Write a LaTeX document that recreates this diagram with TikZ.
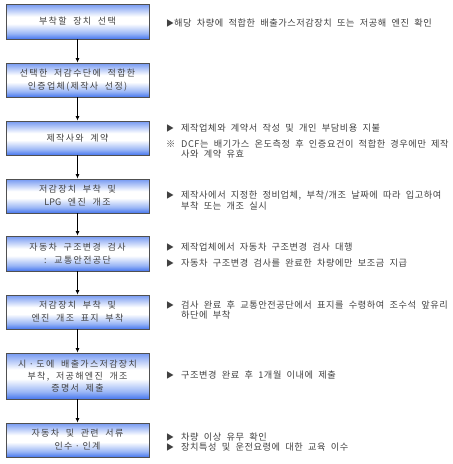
\documentclass[tikz,border=0pt]{standalone}
\usepackage{fontspec}
\setmainfont[WordSpace=2,LetterSpace=6]{Noto Sans CJK KR}
\newfontfamily\boxfont[WordSpace=2,LetterSpace=15]{Noto Sans CJK KR}
\newfontfamily\boxlatin[WordSpace=2]{Noto Sans CJK KR}
\usetikzlibrary{arrows.meta}
\definecolor{btop}{HTML}{7498F2}
\definecolor{bbot}{HTML}{4676EE}
\definecolor{bmid}{HTML}{9AB6F6}
\definecolor{txt}{HTML}{404040}
\definecolor{edge}{HTML}{505050}
\pgfdeclareverticalshading{boxshade}{100bp}{color(0bp)=(bbot); color(25bp)=(bbot); color(33bp)=(bmid); color(47bp)=(white); color(57bp)=(white); color(75bp)=(btop); color(100bp)=(btop)}
\newcommand{\mytri}{\makebox[15pt][l]{\fontsize{8pt}{8pt}\selectfont ▶}}
\newcommand{\mynote}{\makebox[15pt][l]{※}}
\newcommand{\mydot}{\hspace{2.5pt}·\hspace{2.5pt}}
\begin{document}
\begin{tikzpicture}[x=1pt,y=-1pt,
  stepbox/.style={draw=edge, line width=0.9pt, shading=boxshade, minimum width=143pt, minimum height=35pt,
    inner sep=0pt, align=center, text=txt, font=\boxfont\fontsize{9pt}{13pt}\selectfont},
  note/.style={anchor=west, inner sep=0pt, align=left, text=txt, font=\fontsize{9.2pt}{10.5pt}\selectfont},
  flow/.style={-{Latex[length=4.5pt,width=4pt]}, line width=0.8pt, black}]
\useasboundingbox (0,0) rectangle (453,464);
\node[stepbox] (b1) at (77.5,21.5) {부착할 장치 선택};
\node[stepbox, minimum height=34pt] (b2) at (77.5,80) {선택한 저감수단에 적합한\\인증업체(제작사 선정)};
\node[stepbox, minimum height=34pt] (b3) at (77.5,138) {제작사와 계약};
\node[stepbox, minimum height=34pt] (b4) at (77.5,196) {저감장치 부착 및\\{\boxlatin LPG} 엔진 개조};
\node[stepbox] (b5) at (77.5,253.5) {자동차 구조변경 검사\\: 교통안전공단};
\node[stepbox, minimum height=34pt] (b6) at (77.5,312) {저감장치 부착 및\\엔진 개조 표지 부착};
\node[stepbox, minimum height=46pt, font=\boxfont\fontsize{9pt}{12pt}\selectfont] (b7) at (77.5,376) {시\mydot 도에 배출가스저감장치\\부착, 저공해엔진 개조\\증명서 제출};
\node[stepbox, minimum height=34pt] (b8) at (77.5,440) {자동차 및 관련 서류\\인수\mydot 인계};
\draw[flow] (b1) -- (b2);
\draw[flow] (b2) -- (b3);
\draw[flow] (b3) -- (b4);
\draw[flow] (b4) -- (b5);
\draw[flow] (b5) -- (b6);
\draw[flow] (b6) -- (b7);
\draw[flow] (b7) -- (b8);
\node[note] (n1) at (166,23) {\makebox[8pt][l]{\fontsize{8pt}{8pt}\selectfont ▶}해당 차량에 적합한 배출가스저감장치 또는 저공해 엔진 확인};
\node[note] (n3a) at (166,128) {\mytri 제작업체와 계약서 작성 및 개인 부담비용 지불};
\node[note] (n3b) at (166,149) {\mynote DCF는 배기가스 온도측정 후 인증요건이 적합한 경우에만 제작\\\hspace*{15pt}사와 계약 유효};
\node[note] (n4) at (166,200.5) {\mytri 제작사에서 지정한 정비업체, 부착/개조 날짜에 따라 입고하여\\\hspace*{15pt}부착 또는 개조 실시};
\node[note] (n5a) at (166,247) {\mytri 제작업체에서 자동차 구조변경 검사 대행};
\node[note] (n5b) at (166,263) {\mytri 자동차 구조변경 검사를 완료한 차량에만 보조금 지급};
\node[note] (n6) at (166,310) {\mytri 검사 완료 후 교통안전공단에서 표지를 수령하여 조수석 앞유리\\\hspace*{15pt}하단에 부착};
\node[note] (n7) at (166,375) {\mytri 구조변경 완료 후 1개월 이내에 제출};
\node[note] (n8a) at (166,437) {\mytri 차량 이상 유무 확인};
\node[note] (n8b) at (166,447) {\mytri 장치특성 및 운전요령에 대한 교육 이수};
\end{tikzpicture}
\end{document}
